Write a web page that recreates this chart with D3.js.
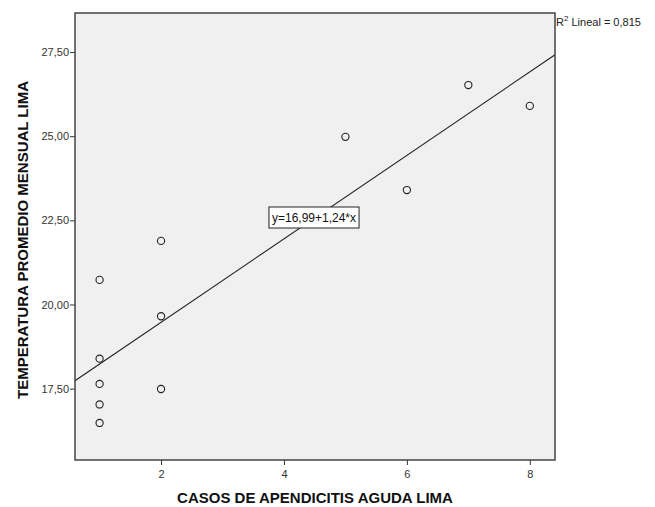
<!DOCTYPE html>
<html>
<head>
<meta charset="utf-8">
<script src="https://cdn.jsdelivr.net/npm/d3@7"></script>
<style>
  body { margin: 0; background: #fff; }
  svg { font-family: "Liberation Sans", Arial, sans-serif; }
</style>
</head>
<body>
<div id="chart"></div>
<script>
/* DATA */
const casos = [1, 1, 1, 1, 1, 2, 2, 2, 5, 6, 7, 8];
const temperatura = [20.73, 18.39, 17.64, 17.03, 16.48, 21.89, 19.65, 17.49, 24.98, 23.4, 26.52, 25.9];
const xTicks = [2, 4, 6, 8];
const yTicks = [17.5, 20, 22.5, 25, 27.5];
const intercept = 16.99, slope = 1.24;
const r2Label = "0,815";

const width = 655, height = 507;
const margin = { top: 13, right: 100, bottom: 47, left: 75 };

const svg = d3.select("#chart").append("svg")
  .attr("width", width)
  .attr("height", height);

const xScale = d3.scaleLinear().domain([0.6, 8.41]).range([margin.left, width - margin.right]);
const yScale = d3.scaleLinear().domain([15.38, 28.66]).range([height - margin.bottom, margin.top]);

const comma = d => d3.format(".2f")(d).replace(".", ",");

// plot background
svg.append("rect")
  .attr("x", margin.left)
  .attr("y", margin.top)
  .attr("width", width - margin.right - margin.left)
  .attr("height", height - margin.bottom - margin.top)
  .attr("fill", "#f0f0f0");

// axes
const xAxis = d3.axisBottom(xScale).tickValues(xTicks).tickSize(5).tickSizeOuter(0).tickFormat(d3.format("d"));
const yAxis = d3.axisLeft(yScale).tickValues(yTicks).tickSize(5).tickSizeOuter(0).tickFormat(comma);

svg.append("g")
  .attr("transform", `translate(0,${height - margin.bottom})`)
  .call(xAxis)
  .call(g => g.select(".domain").remove())
  .call(g => g.selectAll("line").attr("stroke", "#333"))
  .call(g => g.selectAll("text").attr("fill", "#333").attr("font-size", 11).attr("dy", "0.9em"));

svg.append("g")
  .attr("transform", `translate(${margin.left},0)`)
  .call(yAxis)
  .call(g => g.select(".domain").remove())
  .call(g => g.selectAll("line").attr("stroke", "#333"))
  .call(g => g.selectAll("text").attr("fill", "#333").attr("font-size", 11).attr("x", -6));

// clip for regression line
svg.append("clipPath").attr("id", "clip")
  .append("rect")
  .attr("x", margin.left)
  .attr("y", margin.top)
  .attr("width", width - margin.right - margin.left)
  .attr("height", height - margin.bottom - margin.top);

const [x0, x1] = xScale.domain();
svg.append("line")
  .attr("clip-path", "url(#clip)")
  .attr("x1", xScale(x0)).attr("y1", yScale(intercept + slope * x0))
  .attr("x2", xScale(x1)).attr("y2", yScale(intercept + slope * x1))
  .attr("stroke", "#222")
  .attr("stroke-width", 1.1);

// points
svg.selectAll(".dot")
  .data(casos.map((c, i) => ({ x: c, y: temperatura[i] })))
  .join("circle")
  .attr("class", "dot")
  .attr("cx", d => xScale(d.x))
  .attr("cy", d => yScale(d.y))
  .attr("r", 3.6)
  .attr("fill", "none")
  .attr("stroke", "#222")
  .attr("stroke-width", 1.1);

// frame
svg.append("rect")
  .attr("x", margin.left)
  .attr("y", margin.top)
  .attr("width", width - margin.right - margin.left)
  .attr("height", height - margin.bottom - margin.top)
  .attr("fill", "none")
  .attr("stroke", "#444")
  .attr("stroke-width", 1.5);

// equation label
const eq = svg.append("g");
const eqText = eq.append("text")
  .attr("x", 314)
  .attr("y", 222)
  .attr("text-anchor", "middle")
  .attr("font-size", 12)
  .attr("fill", "#111")
  .text(`y=${comma(intercept)}+${comma(slope)}*x`);
const bb = eqText.node().getBBox();
eq.insert("rect", "text")
  .attr("x", bb.x - 3)
  .attr("y", 207)
  .attr("width", bb.width + 6)
  .attr("height", 21)
  .attr("fill", "#fff")
  .attr("stroke", "#222")
  .attr("stroke-width", 1);

// R2 label
const r2 = svg.append("text")
  .attr("x", width - margin.right + 1)
  .attr("y", 26)
  .attr("font-size", 11)
  .attr("fill", "#222");
r2.append("tspan").text("R");
r2.append("tspan").attr("font-size", 8).attr("dy", -5).text("2");
r2.append("tspan").attr("dy", 5).text(" Lineal = " + r2Label);

// axis titles
svg.append("text")
  .attr("x", 315)
  .attr("y", 503)
  .attr("text-anchor", "middle")
  .attr("font-size", 15)
  .attr("font-weight", "bold")
  .attr("fill", "#111")
  .text("CASOS DE APENDICITIS AGUDA LIMA");

svg.append("text")
  .attr("transform", `translate(28,240) rotate(-90)`)
  .attr("text-anchor", "middle")
  .attr("font-size", 15)
  .attr("font-weight", "bold")
  .attr("fill", "#111")
  .text("TEMPERATURA PROMEDIO MENSUAL LIMA");
</script>
</body>
</html>
